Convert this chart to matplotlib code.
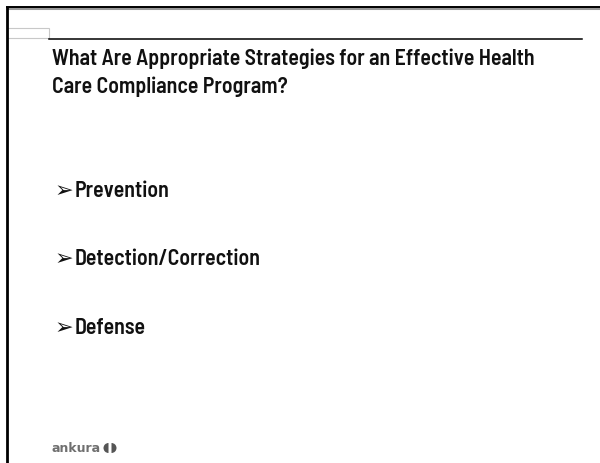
import matplotlib
matplotlib.use("Agg")
import matplotlib.pyplot as plt
from matplotlib.patches import Rectangle, Wedge

# slide content
title_lines = ["What Are Appropriate Strategies for an Effective Health",
               "Care Compliance Program?"]
bullets = ["Prevention", "Detection/Correction", "Defense"]
logo_text = "ankura"

fonts = ["Barlow Semi Condensed", "DejaVu Sans"]

fig = plt.figure(figsize=(6, 4.63), dpi=100)
ax = fig.add_axes([0, 0, 1, 1])
ax.set_xlim(0, 600)
ax.set_ylim(463, 0)
ax.axis("off")

# frame lines (top and left)
ax.plot([6, 600], [8, 8], color="#999999", lw=2.2, solid_capstyle="butt")
ax.plot([6, 600], [7, 7], color="black", lw=1.4, solid_capstyle="butt")
ax.plot([7, 7], [7, 463], color="black", lw=2, solid_capstyle="butt")

# small grey tab and title rule
ax.add_patch(Rectangle((7, 28), 42, 10, fill=False, ec="#c8c8c8", lw=0.8))
ax.plot([49, 582], [39, 39], color="black", lw=1.1)

# title
for i, line in enumerate(title_lines):
    ax.text(52, 65 + i * 28, line, family=fonts, fontsize=15.8,
            fontweight=600, va="baseline", ha="left", color="#111111")

# bullets
ys = [197, 265, 334]
for y, b in zip(ys, bullets):
    ax.text(55, y, "\u27a2", family=["DejaVu Sans"], fontsize=16,
            va="baseline", ha="left", color="#111111")
    ax.text(75, y, b, family=fonts, fontsize=15.8,
            fontweight=600, va="baseline", ha="left", color="#111111")

# logo
ax.text(52, 452, logo_text, family=["DejaVu Sans"], fontsize=9,
        fontweight="bold", color="#707070", va="baseline", ha="left")
ax.add_patch(Wedge((108.5, 448), 5, 90, 270, fc="#555555", ec="none"))
ax.add_patch(Wedge((111.5, 448), 5, -90, 90, fc="#555555", ec="none"))

fig.savefig("out.png", dpi=100)
